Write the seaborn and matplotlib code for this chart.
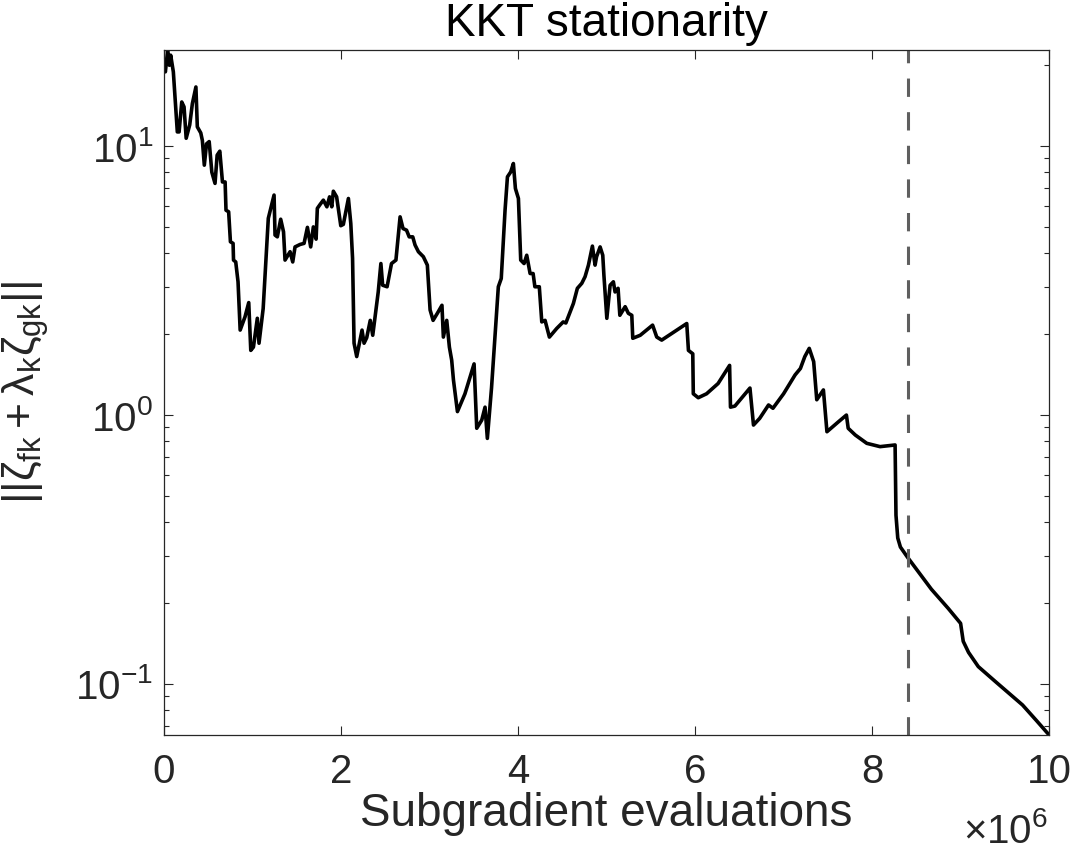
import numpy as np
import pandas as pd
import matplotlib
matplotlib.use('Agg')
import matplotlib.pyplot as plt
from matplotlib import ticker
import seaborn as sns

# 데이터 (x: 백만 단위 subgradient evaluations, y: KKT stationarity)
evals_m = [0.005, 0.015, 0.04, 0.06, 0.075, 0.105, 0.15, 0.17, 0.20, 0.226,
           0.25, 0.29, 0.32, 0.36, 0.376, 0.415, 0.433, 0.455, 0.48, 0.51,
           0.54, 0.576, 0.60, 0.63, 0.66, 0.69, 0.70, 0.73, 0.75, 0.78,
           0.785, 0.81, 0.836, 0.86, 0.915, 0.957, 0.98, 1.01, 1.054, 1.073,
           1.12, 1.178, 1.243, 1.254, 1.28, 1.318, 1.35, 1.367, 1.424, 1.454,
           1.48, 1.537, 1.582, 1.62, 1.657, 1.687, 1.718, 1.732, 1.763, 1.80,
           1.84, 1.87, 1.895, 1.913, 1.95, 1.997, 2.026, 2.083, 2.11, 2.13,
           2.147, 2.177, 2.237, 2.26, 2.29, 2.33, 2.358, 2.42, 2.45, 2.47,
           2.52, 2.57, 2.62, 2.667, 2.70, 2.74, 2.77, 2.81, 2.836, 2.874,
           2.93, 2.975, 3.006, 3.04, 3.088, 3.14, 3.156, 3.194, 3.224, 3.25,
           3.27, 3.315, 3.40, 3.503, 3.533, 3.59, 3.627, 3.653, 3.70, 3.777,
           3.81, 3.853, 3.88, 3.917, 3.947, 3.97, 4.004, 4.03, 4.068, 4.098,
           4.136, 4.17, 4.19, 4.24, 4.268, 4.305, 4.354, 4.437, 4.51, 4.54,
           4.625, 4.67, 4.72, 4.757, 4.795, 4.84, 4.87, 4.887, 4.927, 4.957,
           4.97, 5.003, 5.04, 5.077, 5.096, 5.13, 5.15, 5.21, 5.246, 5.285,
           5.296, 5.38, 5.52, 5.567, 5.623, 5.906, 5.925, 5.974, 5.98, 6.036,
           6.13, 6.26, 6.39, 6.40, 6.45, 6.62, 6.66, 6.73, 6.83, 6.88,
           7.00, 7.13, 7.19, 7.24, 7.29, 7.34, 7.375, 7.45, 7.49, 7.62,
           7.71, 7.73, 7.81, 7.94, 8.09, 8.26, 8.27, 8.29, 8.32, 8.40,
           8.67, 8.86, 9.00, 9.03, 9.09, 9.20, 9.40, 9.70, 9.86, 10.0]
kkt = [19.5, 18.9, 22.6, 20.0, 21.8, 18.9, 11.3, 11.3, 14.6, 14.0,
       10.7, 12.0, 14.4, 16.6, 11.8, 11.2, 10.5, 8.5, 10.2, 10.4,
       8.0, 7.27, 9.26, 9.58, 7.36, 7.36, 5.78, 5.70, 4.41, 4.35,
       3.77, 3.71, 3.13, 2.07, 2.32, 2.62, 1.74, 1.79, 2.29, 1.85,
       2.49, 5.39, 6.58, 4.67, 4.60, 5.35, 4.80, 3.77, 4.05, 3.71,
       4.22, 4.31, 4.35, 4.99, 4.22, 5.01, 4.51, 5.87, 6.07, 6.30,
       5.95, 6.48, 5.95, 6.80, 6.48, 5.06, 5.12, 6.39, 5.16, 3.83,
       1.85, 1.65, 2.07, 1.85, 1.94, 2.25, 1.98, 2.87, 3.66, 3.04,
       3.00, 3.66, 3.77, 5.46, 4.94, 4.87, 4.60, 4.60, 4.29, 4.05,
       3.88, 3.61, 2.46, 2.25, 2.39, 2.56, 1.95, 2.25, 1.79, 1.60,
       1.35, 1.03, 1.20, 1.55, 0.893, 0.958, 1.07, 0.819, 1.26, 3.00,
       3.22, 5.78, 7.69, 8.02, 8.62, 6.96, 6.39, 3.77, 3.66, 3.93,
       3.36, 3.36, 3.00, 3.00, 2.22, 2.25, 1.95, 2.10, 2.22, 2.20,
       2.60, 2.96, 3.09, 3.27, 3.61, 4.25, 3.61, 3.88, 4.22, 3.93,
       3.31, 2.29, 3.04, 3.13, 2.87, 2.96, 2.35, 2.53, 2.39, 2.35,
       1.93, 1.98, 2.16, 1.95, 1.90, 2.19, 1.74, 1.69, 1.20, 1.16,
       1.20, 1.31, 1.53, 1.07, 1.08, 1.26, 0.918, 0.972, 1.09, 1.06,
       1.20, 1.41, 1.49, 1.65, 1.77, 1.58, 1.14, 1.24, 0.867, 0.944,
       1.00, 0.893, 0.843, 0.785, 0.763, 0.774, 0.424, 0.349, 0.323, 0.296,
       0.225, 0.191, 0.168, 0.144, 0.131, 0.116, 0.1016, 0.0835, 0.0729, 0.0646]
stop_m = 8.41  # 점선 위치 (백만)
x_ticks_m = [0, 2, 4, 6, 8, 10]

df = pd.DataFrame({'evals': np.array(evals_m) * 1e6, 'kkt': kkt})

sns.set_style('white')
plt.rcParams['font.family'] = ['Liberation Sans', 'DejaVu Sans']
plt.rcParams['mathtext.fontset'] = 'custom'
plt.rcParams['mathtext.rm'] = 'Liberation Sans'
plt.rcParams['mathtext.it'] = 'Liberation Sans'
plt.rcParams['mathtext.bf'] = 'Liberation Sans:bold'
plt.rcParams['axes.unicode_minus'] = False

ink = '#262626'

fig = plt.figure(figsize=(10.75, 8.55), dpi=100)
ax = fig.add_axes([0.1526, 0.1404, 0.8233, 0.8012])

sns.lineplot(data=df, x='evals', y='kkt', ax=ax, color='black', linewidth=2.6,
             estimator=None, sort=False)
ax.axvline(stop_m * 1e6, color='#5f5f5f', linewidth=2.2, dashes=(6, 5))

ax.set_yscale('log')
ax.set_xlim(0, 10e6)
ax.set_ylim(0.0646, 22.8)

ax.set_xticks([t * 1e6 for t in x_ticks_m])
ax.xaxis.set_major_formatter(ticker.FuncFormatter(lambda v, p: f'{v / 1e6:g}'))
ax.yaxis.set_minor_formatter(ticker.NullFormatter())

for s in ax.spines.values():
    s.set_color(ink)
    s.set_linewidth(0.9)
ax.tick_params(which='both', direction='in', top=True, right=True,
               bottom=True, left=True, color=ink, labelcolor=ink, width=0.8)
ax.tick_params(which='major', length=6.5, labelsize=29, pad=13)
ax.tick_params(which='minor', length=3.6)
ax.tick_params(axis='y', which='major', pad=8)

ax.set_title('KKT stationarity', fontsize=33, color='black', pad=10)
ax.set_xlabel('Subgradient evaluations', fontsize=33, color=ink)
ax.set_ylabel(r'$||\zeta_{fk}+\lambda_k\zeta_{gk}||$', fontsize=32, color=ink)
ax.xaxis.set_label_coords(0.5, -0.083)
ax.yaxis.set_label_coords(-0.128, 0.5)

ax.text(0.999, -0.158, r'$\times\mathdefault{10^{6}}$', transform=ax.transAxes,
        ha='right', va='baseline', fontsize=29, color=ink)

plt.savefig('out.png', dpi=100)
